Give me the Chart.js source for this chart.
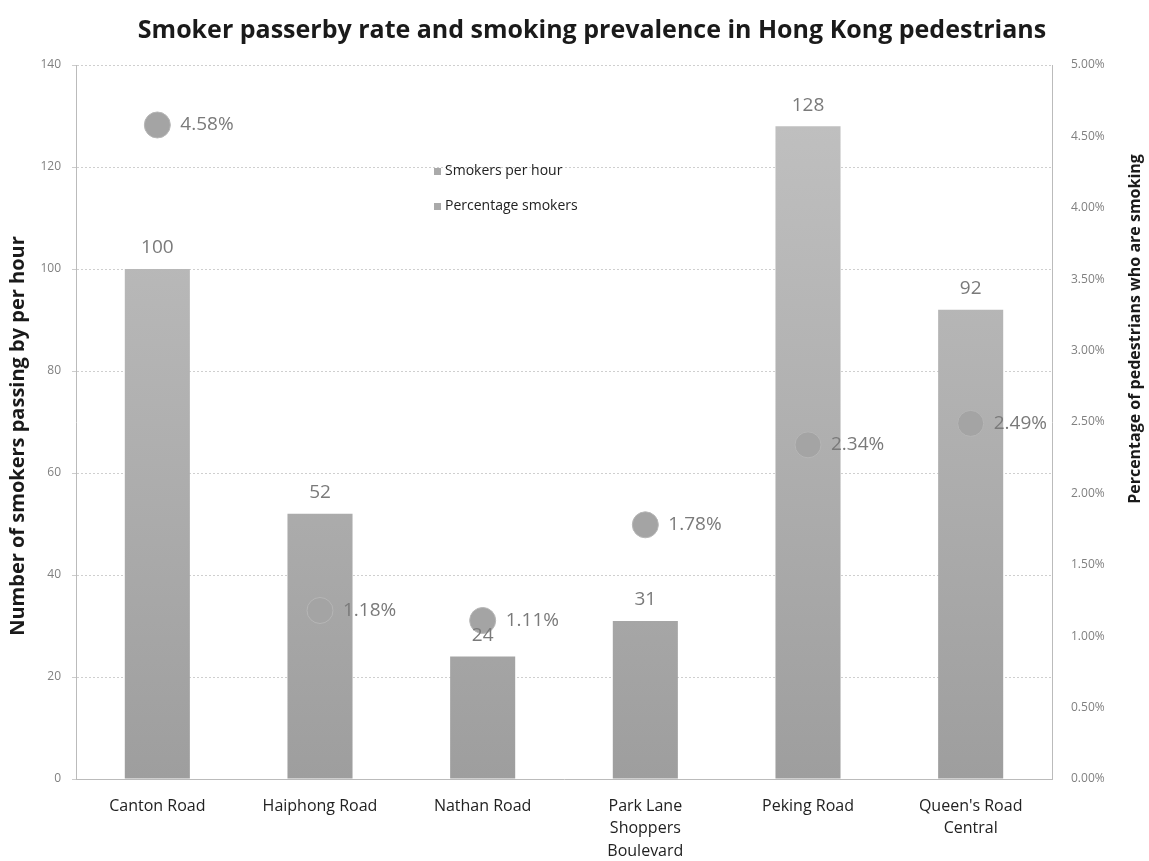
<!DOCTYPE html>
<html>
<head>
<meta charset="utf-8">
<script src="https://cdn.jsdelivr.net/npm/chart.js@4"></script>
<style>
  body { margin: 0; background: #fff; }
  #wrap { width: 1149px; height: 861px; }
</style>
</head>
<body>
<div id="wrap"><canvas id="chart" width="1149" height="861"></canvas></div>
<script>
// Data
const roads = [
  "Canton Road",
  "Haiphong Road",
  "Nathan Road",
  ["Park Lane", "Shoppers", "Boulevard"],
  "Peking Road",
  ["Queen's Road", "Central"],
];
const smokersPerHour = [100, 52, 24, 31, 128, 92];
const percentSmokers = [4.58, 1.18, 1.11, 1.78, 2.34, 2.49];
const leftTicks = [0, 20, 40, 60, 80, 100, 120, 140];
const rightTicks = [0, 0.5, 1, 1.5, 2, 2.5, 3, 3.5, 4, 4.5, 5];

const FONT = "'Open Sans', sans-serif";
const TITLE = "Smoker passerby rate and smoking prevalence in Hong Kong pedestrians";

// Bar fill: light at the top, darker toward the base
function barFill(ctx) {
  const area = ctx.chart.chartArea;
  if (!area) return "#aaa";
  const g = ctx.chart.ctx.createLinearGradient(0, area.top, 0, area.bottom);
  g.addColorStop(0, "#c2c2c2");
  g.addColorStop(1, "#9e9e9e");
  return g;
}

// Value labels: above bars, right of points
const valueLabels = {
  id: "valueLabels",
  afterDatasetsDraw(chart) {
    const c = chart.ctx;
    c.save();
    c.font = "19px " + FONT;
    c.fillStyle = "#7a7a7a";
    chart.getDatasetMeta(0).data.forEach((bar, i) => {
      c.textAlign = "center";
      c.textBaseline = "middle";
      c.fillText(smokersPerHour[i], bar.x, bar.y - 21);
    });
    chart.getDatasetMeta(1).data.forEach((pt, i) => {
      c.textAlign = "left";
      c.textBaseline = "middle";
      c.fillText(percentSmokers[i].toFixed(2) + "%", pt.x + 23, pt.y);
    });
    c.restore();
  },
};

// Title, small legend inside the plot area, and the two axis titles (both read bottom-up)
const extras = {
  id: "extras",
  afterDraw(chart) {
    const c = chart.ctx;
    const a = chart.chartArea;
    c.save();
    c.fillStyle = "#1a1a1a";
    c.textAlign = "center";
    c.textBaseline = "middle";
    c.font = "bold 25px " + FONT;
    c.fillText(TITLE, 592, 31);

    c.textAlign = "left";
    c.font = "14px " + FONT;
    let y = a.top + 106;
    chart.data.datasets.forEach((ds) => {
      c.fillStyle = "#aaa";
      c.fillRect(a.left + 358, y - 3, 7, 7);
      c.fillStyle = "#222";
      c.fillText(ds.label, a.left + 369, y);
      y += 35;
    });

    c.fillStyle = "#1a1a1a";
    c.textAlign = "center";
    c.font = "bold 20px " + FONT;
    c.translate(18, 436);
    c.rotate(-Math.PI / 2);
    c.fillText("Number of smokers passing by per hour", 0, 0);
    c.setTransform(1, 0, 0, 1, 0, 0);
    c.font = "bold 16px " + FONT;
    c.translate(1135, 329);
    c.rotate(-Math.PI / 2);
    c.fillText("Percentage of pedestrians who are smoking", 0, 0);
    c.restore();
  },
};

new Chart(document.getElementById("chart"), {
  data: {
    labels: roads,
    datasets: [
      {
        type: "bar",
        label: "Smokers per hour",
        data: smokersPerHour,
        backgroundColor: barFill,
        yAxisID: "y",
        order: 2,
        barPercentage: 0.4,
        categoryPercentage: 1,
      },
      {
        type: "line",
        label: "Percentage smokers",
        data: percentSmokers,
        yAxisID: "y1",
        showLine: false,
        order: 1,
        pointRadius: 13,
        pointBackgroundColor: "#a4a4a4",
        pointBorderColor: "#b6b6b6",
        pointBorderWidth: 1,
      },
    ],
  },
  options: {
    responsive: false,
    animation: false,
    layout: { padding: { left: 0, right: 0, top: 65, bottom: 0 } },
    plugins: {
      legend: { display: false },
      tooltip: { enabled: false },
      title: { display: false },
    },
    scales: {
      x: {
        grid: { display: false },
        border: { color: "#bbb", dash: [2, 2] },
        ticks: {
          color: "#222",
          font: { family: FONT, size: 16, lineHeight: 1.4 },
          maxRotation: 0,
          padding: 8,
        },
        afterFit: (s) => { s.height = 82; },
      },
      y: {
        position: "left",
        min: 0,
        max: 140,
        afterBuildTicks: (axis) => { axis.ticks = leftTicks.map((v) => ({ value: v })); },
        afterFit: (s) => { s.width = 76; },
        grid: { color: "#cfcfcf", tickLength: 4, tickColor: "#ccc" },
        border: { color: "#bbb", dash: [2, 2] },
        ticks: { color: "#808080", font: { family: FONT, size: 12 }, padding: 11 },
      },
      y1: {
        position: "right",
        min: 0,
        max: 5,
        afterBuildTicks: (axis) => { axis.ticks = rightTicks.map((v) => ({ value: v })); },
        afterFit: (s) => { s.width = 97; },
        grid: { display: false },
        border: { color: "#bbb", dash: [2, 2] },
        ticks: {
          color: "#808080",
          font: { family: FONT, size: 12 },
          padding: 11,
          callback: (v) => v.toFixed(2) + "%",
        },
      },
    },
  },
  plugins: [valueLabels, extras],
});
</script>
</body>
</html>
